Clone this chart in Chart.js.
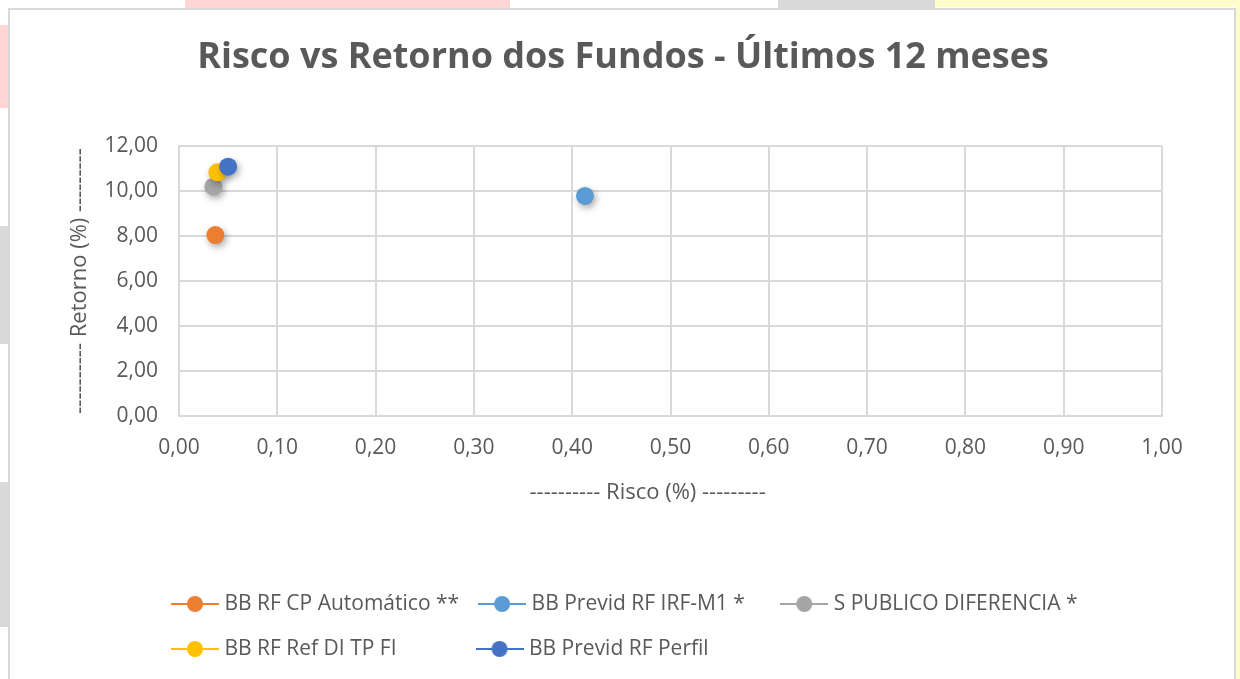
<!DOCTYPE html>
<html lang="pt">
<head>
  <meta charset="UTF-8">
  <title>Risco vs Retorno dos Fundos</title>
  <script src="https://cdn.jsdelivr.net/npm/chart.js"></script>
  <style>
    html, body { margin: 0; padding: 0; background: #fff; }
    body { width: 1240px; height: 679px; position: relative; overflow: hidden; }
    .deco { position: absolute; }
    .frame { position: absolute; left: 8px; top: 8px; width: 1224px; height: 700px;
             border: 2px solid #d9d9d9; background: #fff; }
    #chart { position: absolute; left: 0; top: 0; }
  </style>
</head>
<body>
  <div class="deco" style="left:185px;top:0;width:325px;height:8px;background:#ffd5d5"></div>
  <div class="deco" style="left:778px;top:0;width:157px;height:8px;background:#d9d9d9"></div>
  <div class="deco" style="left:935px;top:0;width:305px;height:7px;background:#fffccc"></div>
  <div class="deco" style="left:1236px;top:0;width:4px;height:679px;background:#fffccc"></div>
  <div class="deco" style="left:0;top:25px;width:8px;height:83px;background:#ffd5d5"></div>
  <div class="deco" style="left:0;top:226px;width:8px;height:118px;background:#d9d9d9"></div>
  <div class="deco" style="left:0;top:482px;width:8px;height:145px;background:#d9d9d9"></div>
  <div class="frame"></div>
  <canvas id="chart" width="1240" height="679"></canvas>

  <script>
    // fundos
    const fundos = ['BB RF CP Automático **', 'BB Previd RF IRF-M1 *', 'S PUBLICO DIFERENCIA *', 'BB RF Ref DI TP FI', 'BB Previd RF Perfil'];
    const risco = [0.037, 0.413, 0.035, 0.039, 0.050];
    const retorno = [8.04, 9.78, 10.19, 10.83, 11.08];
    const cores = ['#ED7D31', '#5B9BD5', '#A5A5A5', '#FFC000', '#4472C4'];

    const xMin = 0, xMax = 1, xStep = 0.1;
    const yMin = 0, yMax = 12, yStep = 2;

    const fmt = v => v.toFixed(2).replace('.', ',');
    const gridColor = '#d9d9d9';
    const textColor = '#595959';
    const fontFamily = "'Open Sans', sans-serif";
    const legendSize = 21;
    const boxW = 38;
    const legendPad = 24;

    // legend marker: line with a dot
    function marker(color) {
      const c = document.createElement('canvas');
      c.width = 48; c.height = 18;
      const g = c.getContext('2d');
      g.strokeStyle = color; g.lineWidth = 2;
      g.beginPath(); g.moveTo(0, 9); g.lineTo(48, 9); g.stroke();
      g.fillStyle = color;
      g.beginPath(); g.arc(24, 9, 8, 0, Math.PI * 2); g.fill();
      return c;
    }

    // pad labels so the legend looks like Excel's column grid
    const measure = document.createElement('canvas').getContext('2d');
    measure.font = legendSize + 'px ' + fontFamily;
    function padLabel(text) {
      const target = 305 - legendPad - boxW - legendSize / 2;
      let t = text;
      while (measure.measureText(t + '\u00a0').width <= target) t += '\u00a0';
      return t;
    }

    const shadow = {
      id: 'shadow',
      beforeDatasetsDraw(chart) {
        const ctx = chart.ctx;
        ctx.save();
        ctx.shadowColor = 'rgba(0,0,0,0.35)';
        ctx.shadowBlur = 7;
        ctx.shadowOffsetX = 2;
        ctx.shadowOffsetY = 3;
      },
      afterDatasetsDraw(chart) { chart.ctx.restore(); }
    };

    // legend rows left aligned under the plot, title centred on the frame
    const boxPos = {
      id: 'boxPos',
      afterLayout(chart) {
        chart.legend.left = 152;
        chart.legend.right = 1232;
        chart.titleBlock.left = 9;
        chart.titleBlock.right = 1237;
      }
    };

    const datasets = fundos.map((nome, i) => ({
      label: nome,
      data: [{ x: risco[i], y: retorno[i] }],
      backgroundColor: cores[i],
      borderColor: cores[i],
      pointRadius: 9,
      pointBorderWidth: 0,
      order: fundos.length - 1 - i
    }));

    Chart.defaults.font.family = fontFamily;

    new Chart(document.getElementById('chart'), {
      type: 'scatter',
      data: { datasets },
      options: {
        responsive: false,
        devicePixelRatio: 1,
        animation: false,
        layout: { padding: { left: 40, right: 78, top: 0, bottom: 9.5 } },
        plugins: {
          title: {
            display: true,
            text: 'Risco vs Retorno dos Fundos - Últimos 12 meses',
            color: textColor,
            font: { size: 36, weight: 'bold' },
            padding: { top: 36.4, bottom: 66.4 }
          },
          legend: {
            position: 'bottom',
            align: 'start',
            labels: {
              color: textColor,
              font: { size: legendSize },
              usePointStyle: true,
              pointStyleWidth: boxW,
              padding: legendPad,
              sort: (a, b) => a.datasetIndex - b.datasetIndex,
              generateLabels(chart) {
                const items = Chart.defaults.plugins.legend.labels.generateLabels(chart);
                items.forEach(it => {
                  it.pointStyle = marker(cores[it.datasetIndex]);
                  it.text = padLabel(it.text);
                });
                return items;
              }
            }
          },
          tooltip: { enabled: false }
        },
        scales: {
          x: {
            min: xMin, max: xMax,
            afterFit(s) { s.height = 153.5; },
            ticks: { stepSize: xStep, callback: v => fmt(v), color: textColor, font: { size: 21 }, padding: 19 },
            grid: { color: gridColor, lineWidth: 2, drawTicks: false },
            border: { color: gridColor, width: 2 },
            title: {
              display: true,
              text: '---------- Risco (%) ---------\u00a0\u00a0\u00a0\u00a0\u00a0\u00a0\u00a0\u00a0',
              color: textColor,
              font: { size: 22 },
              padding: { top: 0, bottom: 63.3 }
            }
          },
          y: {
            min: yMin, max: yMax,
            afterFit(s) { s.width = 139; },
            ticks: { stepSize: yStep, callback: v => fmt(v), color: textColor, font: { size: 21 }, padding: 21 },
            grid: { color: gridColor, lineWidth: 2, drawTicks: false },
            border: { color: gridColor, width: 2 },
            title: {
              display: true,
              text: '---------- Retorno (%) ---------',
              color: textColor,
              font: { size: 22 },
              padding: { top: 26.8, bottom: 0 }
            }
          }
        }
      },
      plugins: [shadow, boxPos]
    });
  </script>
</body>
</html>
